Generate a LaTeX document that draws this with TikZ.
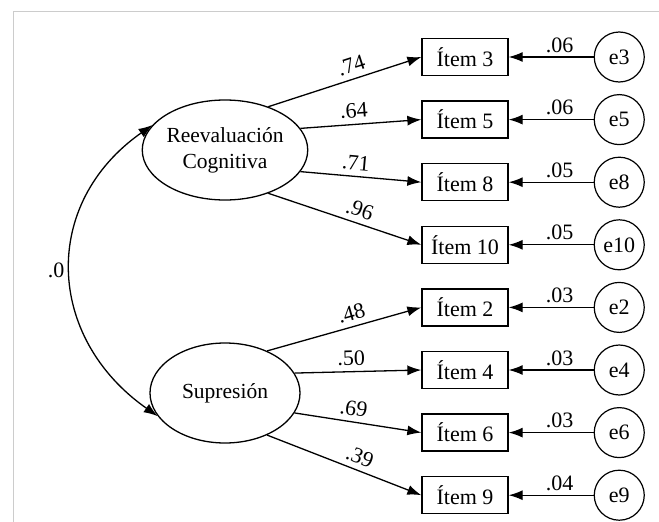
\documentclass[tikz,border=0pt]{standalone}
\usepackage{fontspec}
\setmainfont{Liberation Serif}
\usepackage{tikz}
\usetikzlibrary{shapes, arrows.meta, calc, positioning}

\newcommand{\semfont}{\fontsize{22}{27}\selectfont}

\begin{document}
\begin{tikzpicture}[x=1pt, y=1pt, node distance=24.3pt, font=\semfont]
    % Styles
    \tikzstyle{latent} = [ellipse, draw, line width=1.3pt, minimum width=150pt, minimum height=100pt, inner sep=0pt, align=center, font=\fontsize{21.5}{26}\selectfont]
    \tikzstyle{item} = [rectangle, draw, line width=1.3pt, minimum width=86pt, minimum height=37pt, inner sep=2pt]
    \tikzstyle{errc} = [circle, draw, line width=1.2pt, minimum size=50pt, inner sep=0pt]
    \tikzstyle{load} = [draw, -{Latex[length=14pt, width=10pt]}, line width=1.3pt]
    \tikzstyle{coef} = [above, inner sep=4pt]
    \tikzstyle{lcoef} = [above, sloped, inner sep=5.5pt]

    % Frame
    \useasboundingbox (0,0) rectangle (659,-522);
    \draw [black!20, line width=0.8pt] (13,-522) -- (13,-11) -- (659,-11);

    % Latent factors
    \node [latent] (reev) at (225,-150) {Reevaluación\\Cognitiva};
    \node [latent] (supr) at (225,-393) {Supresión};

    % Items
    \node [item] (i3) at (465,-57) {Ítem 3};
    \node [item, below=of i3] (i5) {Ítem 5};
    \node [item, below=of i5] (i8) {Ítem 8};
    \node [item, below=of i8] (i10) {Ítem 10};
    \node [item, below=of i10] (i2) {Ítem 2};
    \node [item, below=of i2] (i4) {Ítem 4};
    \node [item, below=of i4] (i6) {Ítem 6};
    \node [item, below=of i6] (i9) {Ítem 9};

    % Errors
    \node [errc, right=85pt of i3] (e3) {e3};
    \node [errc, right=85pt of i5] (e5) {e5};
    \node [errc, right=85pt of i8] (e8) {e8};
    \node [errc, right=85pt of i10] (e10) {e10};
    \node [errc, right=85pt of i2] (e2) {e2};
    \node [errc, right=85pt of i4] (e4) {e4};
    \node [errc, right=85pt of i6] (e6) {e6};
    \node [errc, right=85pt of i9] (e9) {e9};

    % Paths: Reevaluacion -> items
    \draw [load] (reev.45) -- node [lcoef, pos=0.57] {.74} (i3.west);
    \draw [load] (reev.16) -- node [lcoef, pos=0.45] {.64} (i5.west);
    \draw [load] (reev.-16) -- node [lcoef, pos=0.45] {.71} (i8.west);
    \draw [load] (reev.-45) -- node [lcoef, pos=0.57] {.96} (i10.west);

    % Paths: Supresion -> items
    \draw [load] (supr.45) -- node [lcoef, pos=0.57] {.48} (i2.west);
    \draw [load] (supr.16) -- node [lcoef, pos=0.45] {.50} (i4.west);
    \draw [load] (supr.-16) -- node [lcoef, pos=0.45] {.69} (i6.west);
    \draw [load] (supr.-45) -- node [lcoef, pos=0.57] {.39} (i9.west);

    % Paths: errors -> items
    \draw [load] (e3) -- node [coef, pos=0.4] {.06} (i3);
    \draw [load] (e5) -- node [coef, pos=0.4] {.06} (i5);
    \draw [load] (e8) -- node [coef, pos=0.4] {.05} (i8);
    \draw [load] (e10) -- node [coef, pos=0.4] {.05} (i10);
    \draw [load] (e2) -- node [coef, pos=0.4] {.03} (i2);
    \draw [load] (e4) -- node [coef, pos=0.4] {.03} (i4);
    \draw [load] (e6) -- node [coef, pos=0.4] {.03} (i6);
    \draw [load] (e9) -- node [coef, pos=0.4] {.04} (i9);

    % Covariance
    \draw [load, {Latex[length=14pt, width=10pt]}-{Latex[length=14pt, width=10pt]}] (reev.161) to [out=215, in=145, looseness=1.2] node [left, inner sep=6pt] {.0} (supr.199);

\end{tikzpicture}
\end{document}
